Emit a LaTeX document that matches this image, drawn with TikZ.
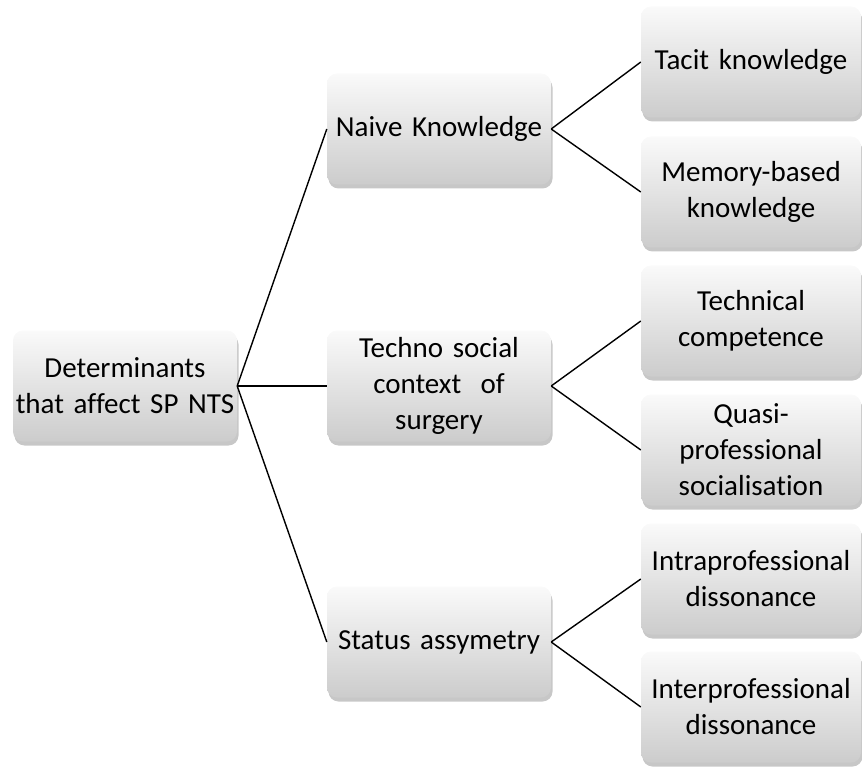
\documentclass[tikz,border=0pt]{standalone}
\usepackage{fontspec}
\setmainfont{Carlito}[Ligatures=NoCommon]
\usetikzlibrary{shadows}
\begin{document}
\begin{tikzpicture}[x=1pt,y=-1pt,
  box/.style={rounded corners=10pt, top color=gray!4, bottom color=gray!40,
    draw=none, minimum height=111pt, align=center, inner sep=2pt,
    font=\fontsize{29}{36}\selectfont,
    drop shadow={shadow xshift=1.5pt, shadow yshift=-4pt, opacity=0.22, fill=black}},
  midbox/.style={box, minimum width=224pt, text width=220pt},
  leafbox/.style={box, minimum width=220pt, text width=216pt},
  link/.style={draw=black, line width=1.4pt}]
\useasboundingbox (0,0) rectangle (862,767);
\node[midbox] (root) at (125,386) {Determinants\\that affect SP NTS};
\node[midbox] (naive) at (439,129) {Naive Knowledge};
\node[midbox] (techno) at (439,386) {Techno social\\context~ of\\surgery};
\node[midbox] (status) at (439,642) {Status assymetry};
\node[leafbox] (tacit) at (751,62) {Tacit knowledge};
\node[leafbox] (memory) at (751,192) {Memory-based\\knowledge};
\node[leafbox] (tech) at (751,321) {Technical\\competence};
\node[leafbox] (quasi) at (751,450) {Quasi-\\professional\\socialisation};
\node[leafbox] (intra) at (751,579) {Intraprofessional\\dissonance};
\node[leafbox] (inter) at (751,707) {Interprofessional\\dissonance};
\draw[link] (root.east) -- (naive.west);
\draw[link] (root.east) -- (techno.west);
\draw[link] (root.east) -- (status.west);
\draw[link] (naive.east) -- (tacit.west);
\draw[link] (naive.east) -- (memory.west);
\draw[link] (techno.east) -- (tech.west);
\draw[link] (techno.east) -- (quasi.west);
\draw[link] (status.east) -- (intra.west);
\draw[link] (status.east) -- (inter.west);
\end{tikzpicture}
\end{document}
